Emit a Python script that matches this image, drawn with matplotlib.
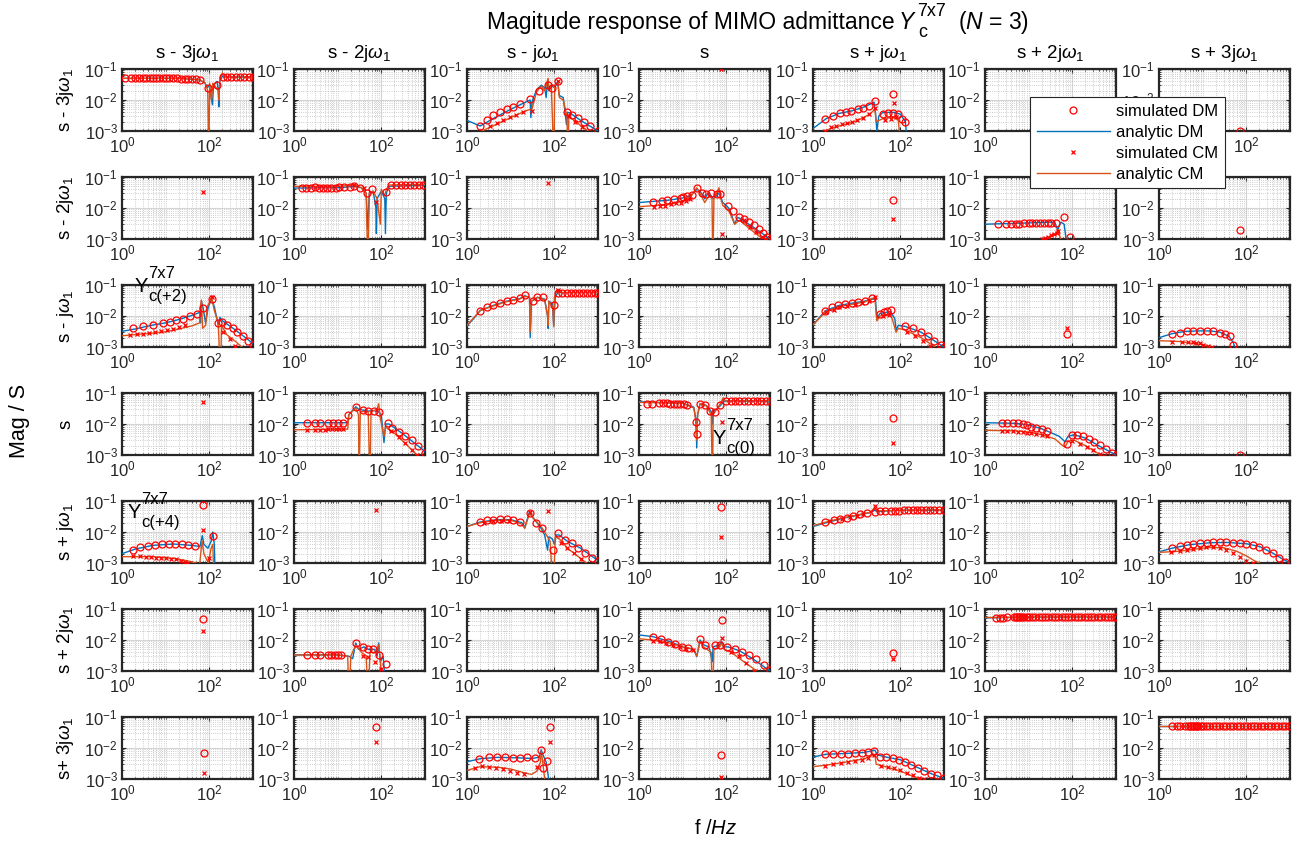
import matplotlib.pyplot as plt
from matplotlib.lines import Line2D
from matplotlib.ticker import FixedLocator, NullFormatter

plt.rcParams["font.family"] = ["Liberation Sans", "DejaVu Sans"]
plt.rcParams["mathtext.fontset"] = "custom"
plt.rcParams["mathtext.rm"] = "Liberation Sans"
plt.rcParams["mathtext.it"] = "Liberation Sans:italic"
plt.rcParams["mathtext.bf"] = "Liberation Sans:bold"
plt.rcParams["axes.unicode_minus"] = False

row_labels = [r"s - 3j$\omega_1$", r"s - 2j$\omega_1$", r"s - j$\omega_1$", "s",
              r"s + j$\omega_1$", r"s + 2j$\omega_1$", r"s+ 3j$\omega_1$"]
col_labels = [r"s - 3j$\omega_1$", r"s - 2j$\omega_1$", r"s - j$\omega_1$", "s",
              r"s + j$\omega_1$", r"s + 2j$\omega_1$", r"s + 3j$\omega_1$"]

# each series: list of (f / Hz, |Y| / S)
# adm = analytic DM, acm = analytic CM, sdm = simulated DM, scm = simulated CM

# ---- row 0 ----
y00_adm = [(1, 0.05), (20, 0.05), (60, 0.045), (80, 0.035), (90, 0.025), (100, 0.03), (110, 0.012),
           (118, 0.007), (125, 0.03), (150, 0.04), (160, 0.02), (165, 0.006), (172, 0.04), (200, 0.06),
           (220, 0.055), (1000, 0.055)]
y00_acm = [(1, 0.05), (20, 0.05), (60, 0.045), (80, 0.035), (92, 0.02), (97, 1e-4), (102, 0.035),
           (112, 0.01), (120, 0.035), (160, 0.02), (165, 0.01), (175, 0.05), (200, 0.075), (215, 0.055),
           (1000, 0.055)]
y00_sdm = [(1.2, 0.051), (1.6, 0.051), (2.0, 0.051), (2.5, 0.052), (3.0, 0.051), (3.6, 0.051), (4.3, 0.052),
           (5.0, 0.051), (6.0, 0.051), (7.0, 0.052), (8.5, 0.051), (10, 0.051), (12, 0.05), (15, 0.05),
           (18, 0.05), (22, 0.049), (27, 0.049), (33, 0.048), (40, 0.047), (50, 0.046), (60, 0.045),
           (93, 0.024), (150, 0.03), (210, 0.054), (260, 0.055), (320, 0.055), (400, 0.055), (500, 0.055),
           (630, 0.055), (800, 0.055), (1000, 0.055)]
y00_scm = []

y02_adm = [(1, 0.0022), (2, 0.00145), (5, 0.003), (10, 0.005), (20, 0.008), (28, 0.01), (29, 0.0027),
           (31, 0.009), (39, 0.021), (50, 0.03), (60, 0.025), (65, 0.012), (70, 0.04), (75, 0.02),
           (85, 0.03), (100, 0.025), (110, 0.03), (120, 0.04), (130, 0.014), (160, 0.012), (190, 0.0016),
           (200, 0.004), (230, 0.0038), (400, 0.0022), (1000, 0.001)]
y02_acm = [(2.2, 0.001), (5, 0.0017), (10, 0.0027), (20, 0.0042), (28, 0.005), (30, 0.0045), (39, 0.018),
           (50, 0.028), (60, 0.02), (72, 0.05), (76, 0.02), (85, 0.03), (98, 1e-4), (102, 0.03),
           (120, 0.035), (130, 0.012), (160, 0.01), (195, 0.003), (205, 1e-4), (215, 0.003),
           (400, 0.0015), (600, 0.001), (800, 0.0007)]
y02_sdm = [(2.0, 0.00145), (2.8, 0.0022), (4, 0.0033), (5.7, 0.0042), (8.1, 0.005), (11.3, 0.006),
           (16, 0.0074), (28, 0.0105), (45, 0.02), (70, 0.03), (90, 0.024), (120, 0.04), (200, 0.004),
           (260, 0.0034), (350, 0.0026), (480, 0.002), (650, 0.0015), (1000, 0.001)]
y02_scm = [(3.3, 0.0014), (4.8, 0.0018), (6.8, 0.0022), (9.6, 0.0028), (13.5, 0.0033), (19, 0.0042),
           (30, 0.0045), (120, 0.04), (220, 0.003), (300, 0.002), (420, 0.0013)]

y03_scm = [(75, 0.098)]

y04_adm = [(1, 0.0012), (2, 0.0025), (4, 0.0037), (8, 0.0045), (15, 0.006), (25, 0.0085), (27, 0.004),
           (29, 0.001), (32, 0.003), (40, 0.004), (70, 0.004), (100, 0.0035), (130, 0.002), (160, 1e-4)]
y04_acm = [(1.5, 0.0009), (3, 0.0013), (6, 0.0017), (10, 0.0021), (20, 0.0035), (26, 0.005), (28, 0.002),
           (40, 0.0025), (70, 0.0028), (90, 0.0022), (110, 1e-4)]
y04_sdm = [(1.9, 0.0025), (2.8, 0.003), (4.2, 0.0038), (5.7, 0.0042), (7.6, 0.0045), (10.5, 0.005),
           (14, 0.0055), (19.5, 0.0065), (26, 0.009), (41, 0.0035), (52, 0.0037), (67, 0.0038),
           (88, 0.0035), (108, 0.0025), (126, 0.002), (67, 0.016)]
y04_scm = [(1.9, 0.001), (2.6, 0.0013), (3.4, 0.0015), (4.5, 0.0017), (5.9, 0.0018), (7.8, 0.002),
           (10, 0.0022), (14, 0.0027), (19, 0.0035), (26, 0.0055), (45, 0.0022), (60, 0.0025),
           (80, 0.0028), (70, 0.008)]

y06_sdm = [(72, 0.001)]

# ---- row 1 ----
y10_scm = [(72, 0.034)]

y11_adm = [(1, 0.044), (10, 0.045), (25, 0.05), (35, 0.045), (45, 0.03), (49, 0.002), (53, 0.03),
           (65, 0.035), (75, 0.01), (77, 0.0015), (80, 0.02), (100, 0.035), (120, 0.02), (124, 0.0015),
           (130, 0.03), (150, 0.05), (1000, 0.055)]
y11_acm = [(1, 0.05), (10, 0.05), (25, 0.055), (35, 0.045), (45, 0.03), (49, 1e-4), (53, 0.03),
           (65, 0.035), (80, 0.02), (95, 0.003), (100, 0.04), (120, 0.025), (130, 0.04), (150, 0.055),
           (1000, 0.058)]
y11_sdm = [(1.5, 0.045), (1.9, 0.045), (2.4, 0.045), (3, 0.046), (3.8, 0.045), (4.7, 0.045), (5.8, 0.045),
           (7.2, 0.045), (9, 0.045), (11, 0.046), (14, 0.046), (19, 0.048), (24, 0.05), (32, 0.045),
           (46, 0.03), (60, 0.04), (130, 0.033), (170, 0.055), (220, 0.055), (280, 0.055), (350, 0.055),
           (450, 0.055), (570, 0.055), (720, 0.055), (900, 0.055)]
y11_scm = [(24, 0.055), (40, 0.045), (76, 0.016)]

y12_scm = [(72, 0.063)]

y13_adm = [(1, 0.015), (5, 0.018), (10, 0.021), (15, 0.025), (21, 0.04), (25, 0.035), (32, 0.02),
           (38, 0.03), (45, 0.025), (50, 0.02), (60, 0.025), (68, 0.03), (83, 0.015), (100, 0.012),
           (120, 0.009), (155, 0.003), (180, 0.005), (210, 0.0045), (400, 0.0025), (1000, 0.001)]
y13_acm = [(1, 0.011), (5, 0.013), (10, 0.017), (15, 0.022), (21, 0.045), (25, 0.03), (32, 0.015),
           (40, 0.025), (47, 0.02), (49, 1e-4), (52, 0.02), (68, 0.045), (75, 0.02), (83, 0.012),
           (100, 0.01), (120, 0.007), (155, 0.003), (200, 0.004), (300, 0.0025), (500, 0.0014),
           (700, 0.001)]
y13_sdm = [(2.05, 0.016), (3.3, 0.017), (4.4, 0.018), (6.3, 0.019), (9, 0.021), (10.3, 0.023),
           (12.7, 0.024), (16, 0.027), (21, 0.044), (28, 0.03), (35, 0.028), (45, 0.03), (60, 0.028),
           (70, 0.028), (110, 0.012), (140, 0.008), (200, 0.005), (260, 0.0045), (330, 0.0035),
           (420, 0.0028), (550, 0.0021), (700, 0.0016), (850, 0.0012), (1000, 0.001)]
y13_scm = [(2.2, 0.011), (3, 0.0115), (4, 0.012), (5.5, 0.013), (7, 0.014), (9, 0.015), (12, 0.017),
           (15, 0.02), (78, 0.0014), (250, 0.004), (350, 0.0025), (480, 0.0017), (650, 0.0012), (800, 0.001)]

y14_sdm = [(67, 0.018)]
y14_scm = [(67, 0.0044)]

y15_adm = [(1, 0.003), (10, 0.0033), (33, 0.0035), (40, 0.0033), (46, 0.002), (55, 0.0035), (65, 0.003),
           (88, 1e-4)]
y15_acm = [(20, 0.0008), (30, 0.0011), (40, 0.0014), (48, 0.002), (52, 0.0012), (58, 0.0008)]
y15_sdm = [(2, 0.003), (3, 0.003), (4, 0.0031), (5, 0.0031), (6, 0.0031), (8, 0.0032), (10, 0.0032),
           (12, 0.0032), (15, 0.0033), (18, 0.0033), (22, 0.0034), (27, 0.0034), (33, 0.0033),
           (42, 0.0032), (65, 0.005), (88, 0.0012)]
y15_scm = [(20, 0.001), (24, 0.0011), (28, 0.0012), (33, 0.0013), (38, 0.0014), (44, 0.0016), (48, 0.0018)]

y16_sdm = [(72, 0.0019)]

# ---- row 2 ----
y20_adm = [(1, 0.0032), (2, 0.0038), (5, 0.0051), (10, 0.006), (20, 0.0077), (40, 0.0105), (60, 0.013),
           (63, 0.006), (66, 0.03), (72, 0.018), (82, 0.006), (95, 0.02), (113, 0.035), (130, 0.02),
           (150, 0.008), (160, 0.005), (175, 0.009), (200, 0.007), (400, 0.0035), (1000, 0.0013)]
y20_acm = [(1, 0.0023), (5, 0.0028), (10, 0.0031), (20, 0.0038), (40, 0.0048), (60, 0.006), (62, 0.02),
           (66, 0.033), (70, 0.004), (82, 0.005), (90, 0.02), (113, 0.04), (130, 0.015), (160, 0.006),
           (180, 1e-4), (190, 0.005), (250, 0.0025), (400, 0.0015), (600, 0.0009)]
y20_sdm = [(1.8, 0.004), (3.1, 0.0048), (5.2, 0.0051), (8.8, 0.0058), (12.5, 0.0066), (17.7, 0.0074),
           (25, 0.0083), (36, 0.01), (51, 0.0115), (72, 0.018), (113, 0.035), (160, 0.006), (200, 0.0066),
           (260, 0.0052), (340, 0.004), (440, 0.003), (580, 0.0022), (750, 0.0016), (1000, 0.0012)]
y20_scm = [(1.5, 0.0024), (2.2, 0.0026), (3, 0.0027), (4.1, 0.0029), (5.6, 0.003), (7.7, 0.0032),
           (10.5, 0.0035), (14.5, 0.0039), (20, 0.0044), (27, 0.005), (113, 0.042), (210, 0.003),
           (300, 0.0018), (380, 0.0011)]

y22_adm = [(1, 0.0048), (1.5, 0.009), (2, 0.015), (4, 0.022), (8, 0.03), (16, 0.036), (21, 0.045),
           (27, 0.04), (28, 0.002), (30, 0.03), (41, 0.04), (60, 0.035), (70, 0.01), (72, 0.004),
           (75, 0.03), (90, 0.025), (97, 0.005), (105, 0.04), (120, 0.057), (1000, 0.057)]
y22_acm = [(1, 0.005), (2, 0.015), (4, 0.021), (8, 0.029), (16, 0.035), (21, 0.043), (27, 0.04),
           (28, 0.003), (30, 0.03), (41, 0.04), (60, 0.033), (70, 0.01), (72, 0.005), (75, 0.03),
           (92, 0.02), (97, 0.0045), (100, 0.04), (115, 0.07), (130, 0.057), (1000, 0.057)]
y22_sdm = [(2, 0.015), (2.8, 0.019), (4, 0.022), (5.7, 0.027), (8.1, 0.031), (11.5, 0.033), (16, 0.037),
           (21, 0.048), (33, 0.03), (41, 0.04), (55, 0.042), (97, 0.023), (120, 0.057), (150, 0.057),
           (190, 0.057), (240, 0.057), (300, 0.057), (370, 0.057), (460, 0.057), (570, 0.057),
           (700, 0.057), (850, 0.057), (1000, 0.057)]
y22_scm = [(120, 0.07)]

y24_adm = [(1, 0.0052), (1.5, 0.01), (2, 0.015), (4, 0.022), (8, 0.026), (15, 0.03), (22, 0.035),
           (27, 0.035), (29, 0.008), (34, 0.012), (60, 0.014), (75, 0.008), (80, 0.0035), (90, 0.005),
           (130, 0.0046), (300, 0.003), (1000, 0.001)]
y24_acm = [(1, 0.0052), (2, 0.014), (4, 0.02), (8, 0.024), (15, 0.028), (26, 0.04), (29, 0.007),
           (34, 0.01), (60, 0.012), (80, 0.003), (90, 0.004), (130, 0.0035), (300, 0.002), (700, 0.0009)]
y24_sdm = [(1.9, 0.015), (2.7, 0.019), (3.8, 0.022), (5.4, 0.025), (7.7, 0.026), (11, 0.028),
           (15.5, 0.031), (22, 0.037), (34, 0.012), (42, 0.013), (50, 0.014), (60, 0.016), (130, 0.0046),
           (200, 0.004), (290, 0.0031), (420, 0.0023), (600, 0.0016), (850, 0.0012), (1000, 0.001)]
y24_scm = [(2, 0.013), (3, 0.016), (4, 0.019), (6, 0.021), (9, 0.023), (13, 0.026), (19, 0.03),
           (26, 0.04), (40, 0.01), (55, 0.011), (140, 0.003), (220, 0.0022), (330, 0.0016),
           (480, 0.0011), (600, 0.0008)]

y25_sdm = [(74, 0.0026)]
y25_scm = [(74, 0.004)]

y26_adm = [(1, 0.002), (2, 0.0027), (4, 0.0032), (8, 0.0033), (15, 0.0033), (25, 0.003), (40, 0.0022),
           (50, 0.0014), (58, 0.0008)]
y26_acm = [(1, 0.0016), (3, 0.0015), (6, 0.0013), (10, 0.0012), (15, 0.001), (20, 0.0008)]
y26_sdm = [(1.95, 0.0026), (3.1, 0.0029), (4.3, 0.0032), (6.1, 0.0033), (8.7, 0.0033), (12.4, 0.0033),
           (17.5, 0.0032), (24.8, 0.0029), (33, 0.0026), (42, 0.0022), (50, 0.0012)]
y26_scm = [(1.95, 0.0015), (3.3, 0.0015), (4.6, 0.0014), (6, 0.0014), (7, 0.0013), (8.5, 0.0013),
           (10, 0.0012), (13, 0.0011), (16, 0.001)]

# ---- row 3 ----
y30_scm = [(72, 0.052)]

y31_adm = [(1, 0.011), (17, 0.011), (18, 0.02), (26, 0.036), (30, 0.03), (38, 0.028), (50, 0.026),
           (68, 0.027), (87, 0.025), (100, 0.02), (115, 0.0025), (125, 0.01), (150, 0.01), (300, 0.005),
           (1000, 0.0013)]
y31_acm = [(1, 0.0065), (17, 0.0068), (18, 0.02), (26, 0.033), (30, 0.02), (31, 1e-4), (33, 0.025),
           (50, 0.025), (55, 1e-4), (58, 0.025), (80, 0.03), (87, 0.045), (95, 0.015), (115, 0.004),
           (125, 0.008), (200, 0.005), (400, 0.002), (700, 0.0009)]
y31_sdm = [(2, 0.011), (3, 0.011), (4, 0.011), (6, 0.011), (7.8, 0.011), (10, 0.011), (13, 0.011),
           (17.5, 0.02), (26, 0.036), (38, 0.028), (50, 0.026), (68, 0.027), (87, 0.025), (140, 0.011),
           (175, 0.0072), (250, 0.0055), (350, 0.004), (500, 0.003), (700, 0.002), (1000, 0.0012)]
y31_scm = [(2, 0.0065), (3, 0.0065), (4, 0.0066), (5, 0.0066), (6, 0.0067), (7.5, 0.0067), (9, 0.0068),
           (11, 0.0068), (13, 0.0069), (170, 0.006), (250, 0.0038), (350, 0.0024), (500, 0.0015),
           (650, 0.001)]

y33_adm = [(1, 0.052), (10, 0.047), (18, 0.035), (20, 0.015), (21, 0.0017), (22, 0.02), (25, 0.045),
           (35, 0.04), (45, 0.025), (48, 0.01), (50, 0.025), (60, 0.03), (73, 0.04), (90, 0.055),
           (1000, 0.055)]
y33_acm = [(1, 0.05), (10, 0.046), (18, 0.033), (20, 0.012), (21, 0.003), (22, 0.02), (25, 0.045),
           (35, 0.038), (45, 0.02), (48, 1e-4), (50, 0.02), (60, 0.03), (73, 0.045), (85, 0.07),
           (95, 0.055), (1000, 0.057)]
y33_sdm = [(1.5, 0.045), (2, 0.045), (2.8, 0.046), (3.5, 0.046), (4.3, 0.046), (5.2, 0.045), (6.2, 0.045),
           (7.4, 0.045), (8.7, 0.044), (10.5, 0.043), (12.4, 0.042), (20, 0.012), (21, 0.0046),
           (25, 0.045), (32, 0.04), (43, 0.027), (55, 0.025), (73, 0.04), (100, 0.055), (125, 0.055),
           (160, 0.055), (200, 0.055), (250, 0.055), (320, 0.055), (400, 0.055), (500, 0.055),
           (630, 0.055), (800, 0.055), (1000, 0.055)]
y33_scm = [(78, 0.012)]

y34_sdm = [(67, 0.016)]
y34_scm = [(67, 0.0025)]

y35_adm = [(1, 0.011), (5, 0.0105), (10, 0.0093), (20, 0.007), (30, 0.0055), (50, 0.004), (68, 0.0027),
           (80, 0.004), (110, 0.0045), (200, 0.0035), (400, 0.002), (1000, 0.001)]
y35_acm = [(1, 0.0063), (5, 0.006), (10, 0.0055), (20, 0.0045), (40, 0.0033), (60, 0.002), (68, 0.0018),
           (80, 0.0028), (110, 0.003), (200, 0.002), (400, 0.0011), (600, 0.0008)]
y35_sdm = [(2.4, 0.011), (3.2, 0.011), (4.3, 0.0105), (5.8, 0.0105), (7.3, 0.01), (9.2, 0.0093),
           (11.5, 0.0083), (14.6, 0.0075), (19.7, 0.007), (26.7, 0.0058), (74, 0.0022), (97, 0.0043),
           (130, 0.0043), (175, 0.004), (240, 0.0034), (320, 0.0027), (440, 0.0021), (600, 0.0016),
           (800, 0.0012), (1000, 0.001)]
y35_scm = [(2.4, 0.006), (3.2, 0.006), (4.3, 0.0058), (5.8, 0.0056), (7.3, 0.0054), (9.2, 0.0052),
           (11.5, 0.005), (14.6, 0.0047), (19.7, 0.0044), (26.7, 0.004), (97, 0.0028), (150, 0.0023),
           (220, 0.0018), (300, 0.0014), (420, 0.0011), (520, 0.0009)]

y36_sdm = [(72, 0.001)]

# ---- row 4 ----
y40_adm = [(1, 0.002), (2, 0.0028), (5, 0.0037), (15, 0.0041), (40, 0.0037), (61, 0.0034), (69, 0.0077),
           (75, 0.004), (93, 0.003), (110, 0.005), (120, 0.01), (130, 0.004), (140, 1e-4)]
y40_acm = [(1, 0.0016), (5, 0.0016), (15, 0.0014), (30, 0.0012), (50, 0.001), (60, 0.0009),
           (68, 0.0052), (75, 0.002), (95, 0.001), (110, 0.003), (120, 0.004), (130, 1e-4)]
y40_sdm = [(1.8, 0.0026), (2.6, 0.0032), (4, 0.0035), (5.7, 0.0038), (8.1, 0.004), (11.7, 0.0042),
           (16.5, 0.0042), (23.5, 0.004), (33, 0.0038), (47, 0.0035), (124, 0.0077), (72, 0.074)]
y40_scm = [(1.8, 0.0017), (2.6, 0.0017), (3.5, 0.0016), (4.6, 0.0016), (6, 0.0015), (8, 0.0015),
           (10, 0.0014), (13, 0.0013), (17, 0.0013), (22, 0.0012), (28, 0.0011), (33, 0.001),
           (72, 0.0115), (100, 0.0015)]

y41_scm = [(75, 0.051)]

y42_adm = [(1, 0.015), (2, 0.021), (5, 0.025), (10, 0.025), (18, 0.02), (21, 0.014), (27, 0.045),
           (32, 0.03), (40, 0.02), (50, 0.013), (60, 0.008), (70, 0.0026), (75, 0.007), (90, 0.006),
           (100, 0.004), (110, 0.008), (130, 0.008), (200, 0.005), (400, 0.003), (1000, 0.0012)]
y42_acm = [(1, 0.015), (2, 0.02), (5, 0.024), (10, 0.024), (18, 0.018), (21, 0.013), (27, 0.04),
           (35, 0.025), (50, 0.015), (60, 0.01), (80, 0.005), (95, 1e-4), (105, 0.007), (130, 0.006),
           (200, 0.003), (400, 0.0014), (600, 0.0009)]
y42_sdm = [(2, 0.021), (2.8, 0.024), (4, 0.025), (5.7, 0.026), (8.1, 0.026), (11.5, 0.024), (16, 0.021),
           (27, 0.04), (38, 0.02), (51, 0.013), (95, 0.0026), (120, 0.009), (175, 0.0057), (250, 0.0044),
           (350, 0.003), (500, 0.0021), (720, 0.0015), (1000, 0.0012)]
y42_scm = [(2.5, 0.02), (4, 0.022), (6, 0.023), (9, 0.023), (27, 0.045), (72, 0.046), (140, 0.0044),
           (200, 0.003), (280, 0.0021), (400, 0.0013)]

y43_sdm = [(76, 0.066)]
y43_scm = [(76, 0.0067)]

y44_adm = [(1, 0.015), (2, 0.02), (5, 0.028), (10, 0.034), (20, 0.042), (26, 0.05), (30, 0.045),
           (50, 0.048), (100, 0.05), (1000, 0.05)]
y44_acm = [(1, 0.016), (2, 0.021), (5, 0.029), (10, 0.035), (20, 0.043), (26, 0.06), (30, 0.048),
           (100, 0.05), (1000, 0.052)]
y44_sdm = [(1.9, 0.021), (3, 0.025), (4.1, 0.027), (6, 0.029), (8.3, 0.032), (12, 0.037), (17, 0.042),
           (26, 0.045), (35, 0.046), (45, 0.047), (60, 0.048), (75, 0.048), (95, 0.049), (120, 0.05),
           (150, 0.05), (190, 0.05), (240, 0.05), (300, 0.05), (380, 0.05), (480, 0.05), (600, 0.05),
           (760, 0.05), (1000, 0.05)]
y44_scm = [(2.5, 0.022), (4.5, 0.027), (7, 0.03), (10, 0.033), (14, 0.037), (26, 0.069)]

y46_adm = [(1, 0.0023), (2, 0.003), (5, 0.0039), (15, 0.0045), (35, 0.0046), (100, 0.0042),
           (200, 0.0034), (400, 0.0021), (700, 0.0013), (1000, 0.001)]
y46_acm = [(1, 0.0022), (3, 0.0024), (8, 0.0029), (15, 0.0032), (30, 0.0031), (60, 0.0024),
           (100, 0.0017), (150, 0.0012), (200, 0.001)]
y46_sdm = [(1.95, 0.003), (3.1, 0.0035), (4.3, 0.0038), (6.1, 0.0042), (8.7, 0.0044), (12.4, 0.0044),
           (17.5, 0.0046), (25, 0.0046), (35, 0.0046), (50, 0.0044), (70, 0.0044), (100, 0.0042),
           (140, 0.0038), (200, 0.0034), (280, 0.0026), (400, 0.0021), (560, 0.0015), (770, 0.0011)]
y46_scm = [(1.9, 0.0022), (3, 0.0024), (4.3, 0.0026), (6, 0.0028), (8.5, 0.003), (12, 0.0032),
           (17, 0.0032), (25, 0.003), (35, 0.0026), (50, 0.0021), (70, 0.0016), (100, 0.0012),
           (140, 0.001)]

# ---- row 5 ----
y50_sdm = [(72, 0.046)]
y50_scm = [(72, 0.019)]

y51_adm = [(1, 0.0033), (10, 0.0033), (18, 0.003), (22, 0.0025), (26, 0.008), (30, 0.005), (40, 0.006),
           (50, 0.005), (70, 0.005), (80, 0.003), (87, 0.008), (95, 0.002), (110, 0.003), (135, 1e-4)]
y51_acm = [(1, 0.0033), (10, 0.0033), (17, 0.003), (18, 1e-4), (20, 0.003), (26, 0.007), (35, 0.004),
           (45, 0.003), (50, 1e-4), (55, 0.004), (70, 0.004), (87, 0.007), (95, 0.002), (110, 1e-4)]
y51_sdm = [(2, 0.0033), (3, 0.0033), (4, 0.0033), (6, 0.0033), (7, 0.0033), (8.5, 0.0033), (10, 0.0033),
           (12, 0.0033), (26, 0.008), (38, 0.006), (50, 0.0052), (65, 0.005), (87, 0.0032), (130, 0.0017)]
y51_scm = [(38, 0.003), (50, 0.0028), (70, 0.002), (100, 0.0012)]

y53_adm = [(1, 0.0145), (2, 0.013), (5, 0.009), (10, 0.006), (18, 0.005), (21, 0.0029), (25, 0.01),
           (30, 0.007), (40, 0.006), (45, 0.003), (47, 0.002), (50, 0.006), (70, 0.007), (78, 0.009),
           (85, 0.006), (110, 0.006), (200, 0.0045), (400, 0.0025), (1000, 0.001)]
y53_acm = [(1, 0.011), (2, 0.01), (5, 0.008), (10, 0.006), (18, 0.005), (21, 0.003), (25, 0.009),
           (30, 0.006), (45, 0.004), (48, 1e-4), (52, 0.005), (70, 0.006), (78, 0.008), (90, 0.005),
           (130, 0.004), (250, 0.002), (500, 0.001), (700, 0.0007)]
y53_sdm = [(2.1, 0.0126), (3.2, 0.0105), (4.5, 0.0087), (6.8, 0.0076), (9.5, 0.006), (13.5, 0.0054),
           (25, 0.0105), (32, 0.007), (55, 0.007), (70, 0.007), (105, 0.006), (155, 0.0052),
           (230, 0.0042), (330, 0.0033), (490, 0.0025), (720, 0.0016), (1000, 0.0011), (78, 0.044)]
y53_scm = [(2.1, 0.0095), (3, 0.009), (4.2, 0.008), (6, 0.0068), (8.5, 0.0058), (12, 0.0052),
           (17, 0.0048), (78, 0.0114), (130, 0.004), (190, 0.003), (280, 0.0018), (420, 0.001)]

y54_sdm = [(67, 0.0037)]
y54_scm = [(67, 0.0025)]

y55_adm = [(1, 0.052), (10, 0.054), (100, 0.055), (1000, 0.055)]
y55_acm = [(1, 0.053), (10, 0.055), (100, 0.056), (1000, 0.056)]
y55_sdm = [(1.8, 0.053), (2.2, 0.053), (2.6, 0.053), (3.2, 0.054), (4.5, 0.054), (5, 0.054), (5.5, 0.054),
           (6, 0.054), (6.5, 0.054), (7, 0.054), (8, 0.054), (9, 0.054), (10, 0.054), (12, 0.054),
           (14, 0.054), (17, 0.055), (20, 0.055), (24, 0.055), (28, 0.055), (34, 0.055), (40, 0.055),
           (48, 0.055), (57, 0.055), (68, 0.055), (80, 0.055), (95, 0.055), (115, 0.055), (135, 0.055),
           (160, 0.055), (190, 0.055), (230, 0.055), (270, 0.055), (320, 0.055), (390, 0.055),
           (460, 0.055), (550, 0.055), (650, 0.055), (780, 0.055), (920, 0.055), (1000, 0.055)]

# ---- row 6 ----
y60_sdm = [(76, 0.0068)]
y60_scm = [(76, 0.0016)]

y61_sdm = [(77, 0.049)]
y61_scm = [(77, 0.016)]

y62_adm = [(1, 0.0036), (2, 0.0045), (5, 0.005), (15, 0.0048), (30, 0.0046), (45, 0.005), (50, 0.0087),
           (55, 0.006), (65, 0.0035), (75, 0.0009)]
y62_acm = [(1, 0.0019), (2, 0.0025), (5, 0.0024), (10, 0.0021), (20, 0.0016), (30, 0.0014),
           (40, 0.0018), (48, 0.0035), (50, 0.008), (55, 0.003), (60, 0.001)]
y62_sdm = [(1.9, 0.0045), (3.2, 0.005), (4.9, 0.005), (7.4, 0.005), (11.5, 0.0048), (16.6, 0.0048),
           (24, 0.005), (36, 0.0046), (50, 0.0087), (55, 0.0023), (68, 0.0038), (78, 0.049)]
y62_scm = [(1.5, 0.0023), (2.2, 0.0026), (3.2, 0.0025), (4.6, 0.0023), (6.7, 0.0021), (9.5, 0.0018),
           (14, 0.0016), (20, 0.0014), (40, 0.0025), (78, 0.016)]

y63_sdm = [(75, 0.0058)]
y63_scm = [(75, 0.0012)]

y64_adm = [(1, 0.0051), (2, 0.0063), (5, 0.0066), (15, 0.0072), (26, 0.0085), (30, 0.006), (50, 0.005),
           (100, 0.0042), (200, 0.0027), (500, 0.0015), (1000, 0.00105)]
y64_acm = [(1, 0.0025), (2, 0.0028), (5, 0.0034), (15, 0.0045), (26, 0.0062), (28, 0.003), (50, 0.0024),
           (100, 0.0018), (200, 0.0012), (300, 0.001), (500, 0.0008)]
y64_sdm = [(1.9, 0.0063), (2.9, 0.0063), (4.4, 0.0066), (6.5, 0.0066), (9.4, 0.0069), (13, 0.0069),
           (18, 0.0072), (25, 0.0083), (35, 0.0051), (48, 0.0051), (67, 0.0048), (93, 0.0042),
           (130, 0.0036), (180, 0.0028), (250, 0.0023), (350, 0.0018), (500, 0.0015), (700, 0.0013),
           (1000, 0.00105)]
y64_scm = [(1.9, 0.0026), (2.9, 0.003), (4.4, 0.0033), (6.5, 0.0036), (9.4, 0.0038), (13, 0.0042),
           (18, 0.0048), (25, 0.0058), (37, 0.0027), (52, 0.0025), (72, 0.0022), (100, 0.0019),
           (140, 0.0016), (200, 0.0013), (270, 0.0011), (350, 0.001)]

y66_adm = [(1, 0.052), (10, 0.052), (100, 0.052), (1000, 0.052)]
y66_acm = [(1, 0.053), (10, 0.053), (100, 0.053), (1000, 0.053)]
y66_sdm = [(2, 0.052), (2.6, 0.052), (3, 0.052), (4, 0.052), (4.5, 0.052), (5, 0.052), (5.5, 0.052),
           (6, 0.052), (6.5, 0.052), (7, 0.052), (7.5, 0.052), (8, 0.052), (9, 0.052), (10, 0.052),
           (12, 0.052), (14, 0.052), (17, 0.052), (20, 0.052), (24, 0.052), (29, 0.052), (35, 0.052),
           (42, 0.052), (50, 0.052), (60, 0.052), (72, 0.052), (87, 0.052), (105, 0.052), (125, 0.052),
           (150, 0.052), (180, 0.052), (220, 0.052), (260, 0.052), (310, 0.052), (370, 0.052),
           (450, 0.052), (540, 0.052), (650, 0.052), (780, 0.052), (940, 0.052)]

E = []
panels = {
    (0, 0): (y00_adm, y00_acm, y00_sdm, y00_scm), (0, 2): (y02_adm, y02_acm, y02_sdm, y02_scm),
    (0, 3): (E, E, E, y03_scm), (0, 4): (y04_adm, y04_acm, y04_sdm, y04_scm), (0, 6): (E, E, y06_sdm, E),
    (1, 0): (E, E, E, y10_scm), (1, 1): (y11_adm, y11_acm, y11_sdm, y11_scm), (1, 2): (E, E, E, y12_scm),
    (1, 3): (y13_adm, y13_acm, y13_sdm, y13_scm), (1, 4): (E, E, y14_sdm, y14_scm),
    (1, 5): (y15_adm, y15_acm, y15_sdm, y15_scm), (1, 6): (E, E, y16_sdm, E),
    (2, 0): (y20_adm, y20_acm, y20_sdm, y20_scm), (2, 2): (y22_adm, y22_acm, y22_sdm, y22_scm),
    (2, 4): (y24_adm, y24_acm, y24_sdm, y24_scm), (2, 5): (E, E, y25_sdm, y25_scm),
    (2, 6): (y26_adm, y26_acm, y26_sdm, y26_scm),
    (3, 0): (E, E, E, y30_scm), (3, 1): (y31_adm, y31_acm, y31_sdm, y31_scm),
    (3, 3): (y33_adm, y33_acm, y33_sdm, y33_scm), (3, 4): (E, E, y34_sdm, y34_scm),
    (3, 5): (y35_adm, y35_acm, y35_sdm, y35_scm), (3, 6): (E, E, y36_sdm, E),
    (4, 0): (y40_adm, y40_acm, y40_sdm, y40_scm), (4, 1): (E, E, E, y41_scm),
    (4, 2): (y42_adm, y42_acm, y42_sdm, y42_scm), (4, 3): (E, E, y43_sdm, y43_scm),
    (4, 4): (y44_adm, y44_acm, y44_sdm, y44_scm), (4, 6): (y46_adm, y46_acm, y46_sdm, y46_scm),
    (5, 0): (E, E, y50_sdm, y50_scm), (5, 1): (y51_adm, y51_acm, y51_sdm, y51_scm),
    (5, 3): (y53_adm, y53_acm, y53_sdm, y53_scm), (5, 4): (E, E, y54_sdm, y54_scm),
    (5, 5): (y55_adm, y55_acm, y55_sdm, E),
    (6, 0): (E, E, y60_sdm, y60_scm), (6, 1): (E, E, y61_sdm, y61_scm),
    (6, 2): (y62_adm, y62_acm, y62_sdm, y62_scm), (6, 3): (E, E, y63_sdm, y63_scm),
    (6, 4): (y64_adm, y64_acm, y64_sdm, y64_scm), (6, 6): (y66_adm, y66_acm, y66_sdm, E),
}

BLUE = "#0072BD"
ORANGE = "#D95319"
DARK = "#262626"

fig = plt.figure(figsize=(12.96, 8.42), dpi=100)
W, H = 1296, 842
lefts = [122, 294, 467, 639, 813, 985, 1159]
tops = [69, 177, 285, 393, 501, 609, 717]
aw, ah = 131, 62

xminor = [m * d for d in (1, 10, 100) for m in range(2, 10)] + [10, 1000]
yminor = [m * d for d in (1e-3, 1e-2) for m in range(2, 10)] + [1e-2]


def xy(series):
    return [p[0] for p in series], [p[1] for p in series]


def ptext(x, y_top, s, **kw):
    # place text at pixel position measured from the top-left corner
    return fig.text(x / W, 1 - y_top / H, s, va="baseline", ha="left", **kw)


axes = {}
for r in range(7):
    for c in range(7):
        ax = fig.add_axes([lefts[c] / W, 1 - (tops[r] + ah) / H, aw / W, ah / H])
        axes[(r, c)] = ax
        ax.set_xscale("log")
        ax.set_yscale("log")
        adm, acm, sdm, scm = panels.get((r, c), (E, E, E, E))
        if adm:
            ax.plot(*xy(adm), color=BLUE, lw=1.0, zorder=3)
        if acm:
            ax.plot(*xy(acm), color=ORANGE, lw=1.0, zorder=3)
        if sdm:
            ax.plot(*xy(sdm), ls="none", marker="o", ms=5, mfc="none", mec="r", mew=0.9, zorder=4)
        if scm:
            ax.plot(*xy(scm), ls="none", marker="x", ms=3.2, mec="r", mew=0.9, zorder=4)
        ax.set_xlim(1, 1000)
        ax.set_ylim(1e-3, 1e-1)
        ax.xaxis.set_major_locator(FixedLocator([1, 100]))
        ax.xaxis.set_minor_locator(FixedLocator(xminor))
        ax.yaxis.set_major_locator(FixedLocator([1e-3, 1e-2, 1e-1]))
        ax.yaxis.set_minor_locator(FixedLocator(yminor))
        ax.xaxis.set_minor_formatter(NullFormatter())
        ax.yaxis.set_minor_formatter(NullFormatter())
        ax.grid(True, which="major", color="#d4d4d4", lw=0.8, ls="-", zorder=0)
        ax.grid(True, which="minor", color="#bcbcbc", lw=0.6, ls=":", zorder=0)
        ax.set_axisbelow(True)
        ax.tick_params(which="both", direction="in", colors=DARK, labelsize=12, pad=3,
                       top=True, right=True)
        ax.tick_params(which="major", length=3, width=0.8)
        ax.tick_params(which="minor", length=1.5, width=0.6)
        for s in ax.spines.values():
            s.set_linewidth(1.6)
            s.set_color(DARK)
        if c == 0:
            ax.text(-0.43, 0.5, row_labels[r], transform=ax.transAxes, rotation=90,
                    ha="center", va="center", fontsize=13.5, color="black")
        if r == 0:
            ax.text(0.5, 1 + (tops[0] - 58) / ah, col_labels[c], transform=ax.transAxes,
                    ha="center", va="baseline", fontsize=13.5, color="black")

# element labels: Y, superscript 7x7 and subscript, at pixel positions (x, baseline)
elem_labels = [("c(+2)", 135, 292), ("c(+4)", 128, 518), ("c(0)", 713, 444)]
for sub, x0, yb in elem_labels:
    ptext(x0, yb, "Y", fontsize=14.5, zorder=6)
    ptext(x0 + 13, yb - 14, "7x7", fontsize=12, zorder=6)
    ptext(x0 + 13, yb + 9, sub, fontsize=12, zorder=6)

# figure title, built piece by piece
ptext(487, 29, "Magitude response of MIMO admittance", fontsize=16.5)
ptext(899, 29, "Y", fontsize=16.5, style="italic")
ptext(917, 16, "7x7", fontsize=13)
ptext(918, 37, "c", fontsize=13)
ptext(958, 29, r"($N$ = 3)", fontsize=16.5)

fig.text(19 / W, 1 - 421 / H, "Mag / S", rotation=90, ha="center", va="center", fontsize=15.5)
fig.text(716 / W, 1 - 829 / H, r"f /$Hz$", ha="center", va="center", fontsize=14.5)

handles = [
    Line2D([], [], ls="none", marker="o", ms=5, mfc="none", mec="r", mew=0.9),
    Line2D([], [], color=BLUE, lw=1.0),
    Line2D([], [], ls="none", marker="x", ms=3.2, mec="r", mew=0.9),
    Line2D([], [], color=ORANGE, lw=1.0),
]
labels = ["simulated DM", "analytic DM", "simulated CM", "analytic CM"]
leg = fig.legend(handles, labels, loc="upper left", bbox_to_anchor=(1030 / W, 1 - 97 / H),
                 fontsize=12, frameon=True, fancybox=False, framealpha=1, edgecolor=DARK,
                 handlelength=4.4, handletextpad=0.35, labelspacing=0.36, borderpad=0.4,
                 borderaxespad=0)
leg.get_frame().set_linewidth(0.8)
leg.set_zorder(10)

fig.savefig("out.png", dpi=100)
